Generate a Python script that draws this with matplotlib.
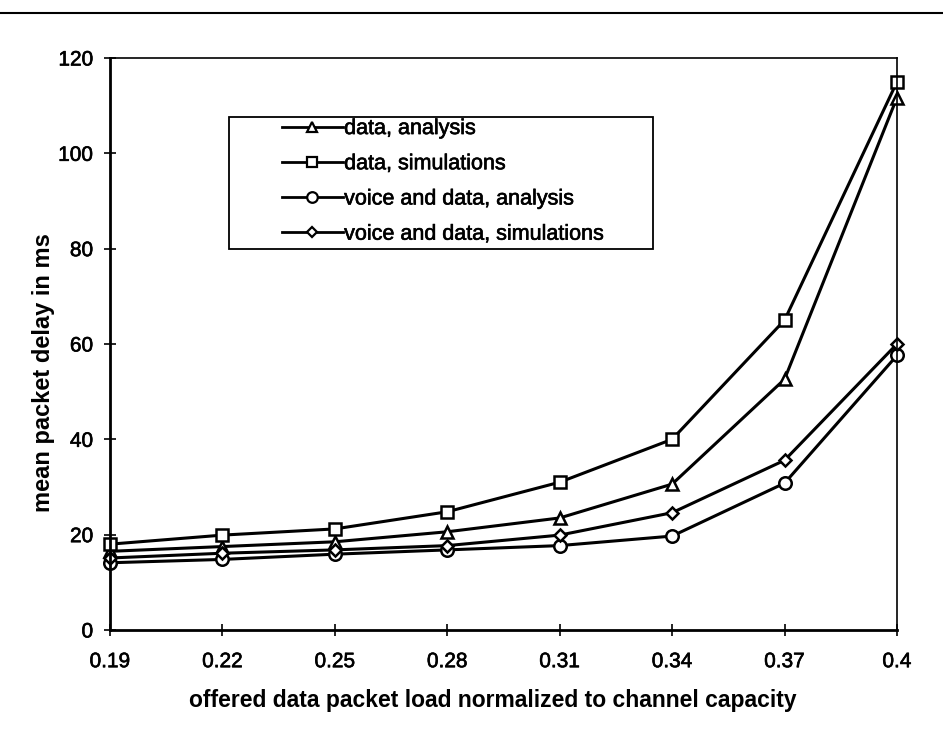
import numpy as np
import matplotlib
matplotlib.use("Agg")
import matplotlib.pyplot as plt
import matplotlib.patheffects as pe
from matplotlib.lines import Line2D
from matplotlib.patches import Rectangle

plt.rcParams['font.family'] = ['Liberation Sans', 'DejaVu Sans']

# offered load (categories) and mean delay in ms
loads = ["0.19", "0.22", "0.25", "0.28", "0.31", "0.34", "0.37", "0.4"]
data_analysis = [16.5, 17.5, 18.5, 20.6, 23.5, 30.6, 52.6, 111.7]
data_simulations = [18.0, 19.9, 21.2, 24.8, 31.0, 40.0, 65.0, 115.0]
vd_analysis = [14.1, 14.8, 15.9, 16.8, 17.7, 19.7, 30.8, 57.6]
vd_simulations = [15.1, 16.1, 16.8, 17.7, 19.9, 24.6, 35.6, 60.0]

series = [
    ("data, analysis", data_analysis, "^", 9),
    ("data, simulations", data_simulations, "s", 9),
    ("voice and data, analysis", vd_analysis, "o", 9),
    ("voice and data, simulations", vd_simulations, "D", 6.5),
]

# slightly heavier glyphs, like a photocopied print
heavy = [pe.withStroke(linewidth=0.45, foreground="black")]

fig = plt.figure(figsize=(9.43, 7.35), dpi=100)
ax = fig.add_axes([0.1166, 0.1429, 0.8346, 0.7782])

x = np.arange(len(loads))
for label, vals, mk, ms in series:
    ax.plot(x, vals, color="black", lw=2.2, marker=mk, ms=ms,
            mfc="white", mec="black", mew=1.8, label=label, clip_on=False)

ax.set_xlim(0, len(loads) - 1)
ax.set_ylim(0, 120)
ax.set_xticks(x)
ax.set_xticklabels(loads)
ax.set_yticks(np.arange(0, 121, 20))

ax.tick_params(direction="inout", length=8, width=1.2, labelsize=15,
               color="black")
ax.tick_params(axis="x", pad=12)
ax.tick_params(axis="y", pad=8)
for t in ax.get_xticklabels() + ax.get_yticklabels():
    t.set_path_effects(heavy)

# plot area frame: heavier on the axis sides
ax.spines["left"].set_linewidth(2.0)
ax.spines["bottom"].set_linewidth(2.0)
ax.spines["top"].set_linewidth(1.2)
ax.spines["right"].set_linewidth(1.2)

ax.set_xlabel("offered data packet load normalized to channel capacity",
              fontsize=16.5, fontweight="bold")
ax.xaxis.set_label_coords(0.487, -0.103)
ax.set_ylabel("mean packet delay in ms", fontsize=17, fontweight="bold")
ax.yaxis.set_label_coords(-0.07, 0.45)

# legend box, entries indented from its left edge
ax.add_patch(Rectangle((0.151, 0.666), 0.539, 0.231, transform=ax.transAxes,
                       fill=True, facecolor="white", edgecolor="black",
                       lw=1.3, zorder=4))
handles = [Line2D([0], [0], color="black", lw=2.0, marker=mk,
                  ms=ms * 0.85, mfc="white", mec="black", mew=1.6)
           for _, _, mk, ms in series]
leg = ax.legend(handles, [s[0] for s in series],
                loc="upper left", bbox_to_anchor=(0.2185, 0.895),
                borderaxespad=0, borderpad=0, fontsize=15.5,
                handlelength=2.84, handletextpad=0.05, labelspacing=0.66,
                frameon=False)
leg.set_zorder(5)
for t in leg.get_texts():
    t.set_path_effects(heavy)

# outer chart border (top edge only survives)
fig.add_artist(Line2D([0, 1], [1 - 13 / 735, 1 - 13 / 735],
                      transform=fig.transFigure, color="black", lw=1.5))

fig.savefig("out.png", dpi=100)
